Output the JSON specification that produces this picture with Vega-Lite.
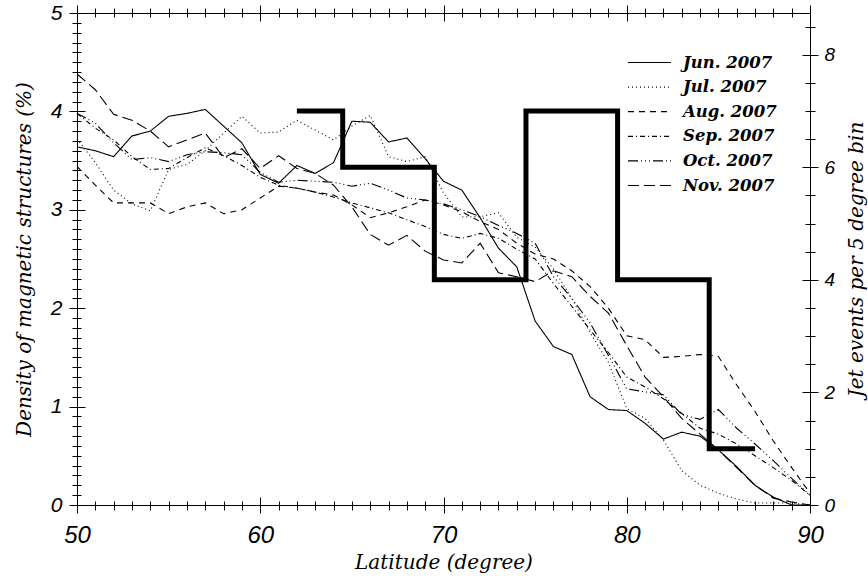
{
  "$schema": "https://vega.github.io/schema/vega-lite/v6.json",
  "autosize": {"type": "none"},
  "padding": {"left": 77, "top": 13, "right": 58, "bottom": 73},
  "width": 733,
  "height": 492,
  "background": "white",
  "datasets": {
    "curves": [
      {"lat":50,"Jun":3.64,"Jul":3.72,"Aug":3.44,"Sep":3.98,"Oct":3.98,"Nov":4.38},
      {"lat":51,"Jun":3.60,"Jul":3.48,"Aug":3.25,"Sep":3.83,"Oct":3.88,"Nov":4.22},
      {"lat":52,"Jun":3.54,"Jul":3.20,"Aug":3.07,"Sep":3.71,"Oct":3.68,"Nov":3.97},
      {"lat":53,"Jun":3.75,"Jul":3.06,"Aug":3.07,"Sep":3.54,"Oct":3.51,"Nov":3.91},
      {"lat":54,"Jun":3.80,"Jul":2.99,"Aug":3.07,"Sep":3.41,"Oct":3.53,"Nov":3.80},
      {"lat":55,"Jun":3.95,"Jul":3.41,"Aug":2.96,"Sep":3.42,"Oct":3.49,"Nov":3.64},
      {"lat":56,"Jun":3.98,"Jul":3.46,"Aug":3.03,"Sep":3.53,"Oct":3.56,"Nov":3.71},
      {"lat":57,"Jun":4.02,"Jul":3.60,"Aug":3.07,"Sep":3.63,"Oct":3.59,"Nov":3.78},
      {"lat":58,"Jun":3.85,"Jul":3.78,"Aug":2.96,"Sep":3.55,"Oct":3.58,"Nov":3.53},
      {"lat":59,"Jun":3.68,"Jul":3.95,"Aug":3.00,"Sep":3.45,"Oct":3.56,"Nov":3.62},
      {"lat":60,"Jun":3.36,"Jul":3.78,"Aug":3.12,"Sep":3.33,"Oct":3.38,"Nov":3.42},
      {"lat":61,"Jun":3.27,"Jul":3.79,"Aug":3.24,"Sep":3.25,"Oct":3.28,"Nov":3.55},
      {"lat":62,"Jun":3.45,"Jul":3.91,"Aug":3.22,"Sep":3.22,"Oct":3.30,"Nov":3.42},
      {"lat":63,"Jun":3.37,"Jul":3.81,"Aug":3.18,"Sep":3.18,"Oct":3.29,"Nov":3.37},
      {"lat":64,"Jun":3.48,"Jul":3.71,"Aug":3.15,"Sep":3.13,"Oct":3.28,"Nov":3.25},
      {"lat":65,"Jun":3.90,"Jul":3.85,"Aug":3.05,"Sep":3.07,"Oct":3.24,"Nov":3.03},
      {"lat":66,"Jun":3.89,"Jul":3.96,"Aug":2.92,"Sep":3.02,"Oct":3.27,"Nov":2.75},
      {"lat":67,"Jun":3.69,"Jul":3.54,"Aug":2.97,"Sep":2.97,"Oct":3.20,"Nov":2.64},
      {"lat":68,"Jun":3.73,"Jul":3.49,"Aug":3.03,"Sep":2.90,"Oct":3.12,"Nov":2.74},
      {"lat":69,"Jun":3.52,"Jul":3.54,"Aug":3.10,"Sep":2.83,"Oct":3.10,"Nov":2.58},
      {"lat":70,"Jun":3.29,"Jul":3.17,"Aug":3.05,"Sep":2.75,"Oct":3.06,"Nov":2.49},
      {"lat":71,"Jun":3.20,"Jul":2.93,"Aug":2.98,"Sep":2.71,"Oct":3.00,"Nov":2.46},
      {"lat":72,"Jun":2.92,"Jul":2.93,"Aug":2.88,"Sep":2.76,"Oct":2.93,"Nov":2.66},
      {"lat":73,"Jun":2.61,"Jul":2.97,"Aug":2.80,"Sep":2.71,"Oct":2.84,"Nov":2.36},
      {"lat":74,"Jun":2.42,"Jul":2.72,"Aug":2.66,"Sep":2.60,"Oct":2.76,"Nov":2.32},
      {"lat":75,"Jun":1.87,"Jul":2.62,"Aug":2.55,"Sep":2.50,"Oct":2.66,"Nov":2.27},
      {"lat":76,"Jun":1.61,"Jul":2.40,"Aug":2.50,"Sep":2.25,"Oct":2.32,"Nov":2.38},
      {"lat":77,"Jun":1.53,"Jul":2.10,"Aug":2.38,"Sep":2.02,"Oct":2.10,"Nov":2.32},
      {"lat":78,"Jun":1.10,"Jul":1.75,"Aug":2.22,"Sep":1.78,"Oct":1.85,"Nov":2.12},
      {"lat":79,"Jun":0.97,"Jul":1.45,"Aug":2.00,"Sep":1.55,"Oct":1.52,"Nov":1.95},
      {"lat":80,"Jun":0.96,"Jul":0.98,"Aug":1.72,"Sep":1.30,"Oct":1.18,"Nov":1.62},
      {"lat":81,"Jun":0.83,"Jul":0.88,"Aug":1.68,"Sep":1.20,"Oct":1.15,"Nov":1.30},
      {"lat":82,"Jun":0.67,"Jul":0.66,"Aug":1.50,"Sep":1.08,"Oct":1.12,"Nov":1.10},
      {"lat":83,"Jun":0.74,"Jul":0.35,"Aug":1.51,"Sep":0.93,"Oct":0.92,"Nov":0.88},
      {"lat":84,"Jun":0.70,"Jul":0.20,"Aug":1.53,"Sep":0.78,"Oct":0.87,"Nov":0.72},
      {"lat":85,"Jun":0.56,"Jul":0.12,"Aug":1.51,"Sep":0.72,"Oct":0.97,"Nov":0.56},
      {"lat":86,"Jun":0.39,"Jul":0.06,"Aug":1.22,"Sep":0.62,"Oct":0.78,"Nov":0.38},
      {"lat":87,"Jun":0.20,"Jul":0.02,"Aug":0.95,"Sep":0.50,"Oct":0.62,"Nov":0.20},
      {"lat":88,"Jun":0.08,"Jul":0.02,"Aug":0.65,"Sep":0.38,"Oct":0.45,"Nov":0.07},
      {"lat":89,"Jun":0.00,"Jul":0.02,"Aug":0.38,"Sep":0.25,"Oct":0.27,"Nov":0.03},
      {"lat":90,"Jun":0.00,"Jul":0.00,"Aug":0.12,"Sep":0.10,"Oct":0.10,"Nov":0.00}
    ],
    "jets": [
      {"lat":62,"jets":7},
      {"lat":67,"jets":6},
      {"lat":72,"jets":4},
      {"lat":77,"jets":7},
      {"lat":82,"jets":4},
      {"lat":87,"jets":1}
    ]
  },
  "config": {
    "view": {"stroke": null},
    "axis": {
      "domainColor": "black",
      "domainWidth": 1,
      "tickColor": "black",
      "tickWidth": 1,
      "gridColor": "black",
      "gridOpacity": 1,
      "gridWidth": 1,
      "labelColor": "black",
      "titleColor": "black",
      "labelFont": "Liberation Sans",
      "labelFontStyle": "italic",
      "titleFont": "DejaVu Serif",
      "titleFontStyle": "italic",
      "titleFontWeight": "normal",
      "titleFontSize": 20,
      "labelOverlap": false,
      "labelFlush": false
    },
    "legend": {
      "symbolStrokeColor": "black",
      "symbolStrokeWidth": 1.2
    }
  },
  "layer": [
    {
      "data": {"name": "curves"},
      "transform": [
        {"fold": ["Jun", "Jul", "Aug", "Sep", "Oct", "Nov"], "as": ["month", "density"]}
      ],
      "mark": {"type": "line", "color": "black", "strokeWidth": 1.1},
      "encoding": {
        "x": {
          "field": "lat", "type": "quantitative",
          "scale": {"domain": [50, 90], "nice": false, "zero": false},
          "axis": {
            "orient": "bottom",
            "title": "Latitude (degree)",
            "values": [50, 60, 70, 80, 90],
            "format": "d",
            "tickSize": 8,
            "grid": true,
            "gridDash": [8, 2000],
            "labelFontSize": 24,
            "labelPadding": 10,
            "titlePadding": 5
          }
        },
        "y": {
          "field": "density", "type": "quantitative",
          "scale": {"domain": [0, 5], "nice": false},
          "axis": {
            "orient": "left",
            "title": "Density of magnetic structures (%)",
            "values": [0, 1, 2, 3, 4, 5],
            "format": "d",
            "tickSize": 8,
            "grid": true,
            "gridDash": [8, 2000],
            "labelFontSize": 21,
            "labelPadding": 7,
            "titlePadding": 16
          }
        },
        "strokeDash": {
          "field": "month", "type": "nominal",
          "scale": {
            "domain": ["Jun", "Jul", "Aug", "Sep", "Oct", "Nov"],
            "range": [[1, 0], [1, 3], [6, 5], [5, 3, 1, 3], [10, 3, 1, 3, 1, 3, 1, 3], [11, 5]]
          },
          "legend": {
            "orient": "none",
            "legendX": 561,
            "legendY": 38,
            "title": null,
            "symbolType": "M-2,0H2",
            "symbolSize": 462,
            "labelOffset": 22,
            "rowPadding": 4.6,
            "labelExpr": "datum.label + '. 2007'",
            "labelFont": "DejaVu Serif",
            "labelFontStyle": "italic",
            "labelFontWeight": "bold",
            "labelFontSize": 16.5,
            "labelColor": "black"
          }
        }
      }
    },
    {
      "data": {"name": "jets"},
      "mark": {"type": "line", "color": "black", "strokeWidth": 5, "interpolate": "step", "strokeJoin": "miter", "strokeCap": "butt"},
      "encoding": {
        "x": {
          "field": "lat", "type": "quantitative",
          "scale": {"domain": [50, 90], "nice": false, "zero": false},
          "axis": {
            "orient": "top",
            "title": null,
            "labels": false,
            "values": [50, 60, 70, 80, 90],
            "tickSize": 8,
            "grid": true,
            "gridDash": [8, 2000]
          }
        },
        "y": {
          "field": "jets", "type": "quantitative",
          "scale": {"domain": [0, 8.74], "nice": false},
          "axis": {
            "orient": "right",
            "title": "Jet events per 5 degree bin",
            "titleAngle": 270,
            "titleBaseline": "top",
            "values": [0, 2, 4, 6, 8],
            "format": "d",
            "tickSize": 8,
            "grid": true,
            "gridDash": [8, 2000],
            "labelFontSize": 19,
            "labelPadding": 6,
            "titlePadding": 12
          }
        }
      }
    },
    {
      "data": {"name": "jets"},
      "mark": {"type": "point", "opacity": 0},
      "encoding": {
        "x": {
          "field": "lat", "type": "quantitative",
          "scale": {"domain": [50, 90], "nice": false, "zero": false},
          "axis": {
            "orient": "bottom",
            "title": null,
            "labels": false,
            "domain": false,
            "grid": true,
            "gridDash": [4, 2000],
            "values": [51,52,53,54,55,56,57,58,59,61,62,63,64,65,66,67,68,69,71,72,73,74,75,76,77,78,79,81,82,83,84,85,86,87,88,89]
          }
        },
        "y": {
          "field": "jets", "type": "quantitative",
          "scale": {"domain": [0, 5], "nice": false},
          "axis": {
            "orient": "left",
            "title": null,
            "labels": false,
            "domain": false,
            "grid": true,
            "gridDash": [4, 2000],
            "values": [0.1,0.2,0.3,0.4,0.5,0.6,0.7,0.8,0.9,1.1,1.2,1.3,1.4,1.5,1.6,1.7,1.8,1.9,2.1,2.2,2.3,2.4,2.5,2.6,2.7,2.8,2.9,3.1,3.2,3.3,3.4,3.5,3.6,3.7,3.8,3.9,4.1,4.2,4.3,4.4,4.5,4.6,4.7,4.8,4.9]
          }
        }
      }
    },
    {
      "data": {"name": "jets"},
      "mark": {"type": "point", "opacity": 0},
      "encoding": {
        "x": {
          "field": "lat", "type": "quantitative",
          "scale": {"domain": [50, 90], "nice": false, "zero": false},
          "axis": {
            "orient": "top",
            "title": null,
            "labels": false,
            "domain": false,
            "grid": true,
            "gridDash": [4, 2000],
            "values": [51,52,53,54,55,56,57,58,59,61,62,63,64,65,66,67,68,69,71,72,73,74,75,76,77,78,79,81,82,83,84,85,86,87,88,89]
          }
        },
        "y": {
          "field": "jets", "type": "quantitative",
          "scale": {"domain": [0, 8.74], "nice": false},
          "axis": {
            "orient": "right",
            "title": null,
            "labels": false,
            "domain": false,
            "grid": true,
            "gridDash": [5, 2000],
            "values": [0.5,1,1.5,2.5,3,3.5,4.5,5,5.5,6.5,7,7.5,8.5]
          }
        }
      }
    }
  ],
  "resolve": {
    "scale": {"y": "independent"},
    "axis": {"x": "independent", "y": "independent"}
  }
}
